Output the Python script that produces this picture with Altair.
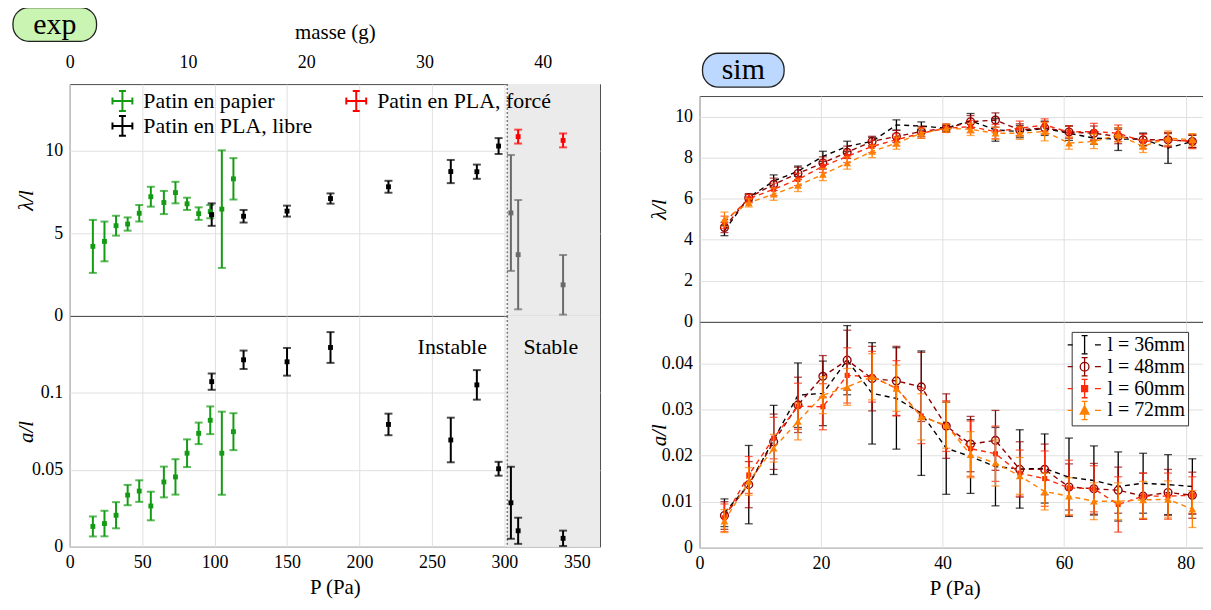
import altair as alt
import pandas as pd

FONT = "Liberation Serif"

# ---------------- experimental data (left) ----------------
P_papier = [16, 24, 32, 40, 48, 56, 65, 73, 81, 89, 97, 105, 113]
lam_papier = [4.2, 4.5, 5.45, 5.55, 6.2, 7.2, 6.85, 7.45, 6.77, 6.18, 6.3, 6.45, 8.28]
lam_papier_err = [1.6, 1.2, 0.6, 0.4, 0.5, 0.6, 0.7, 0.65, 0.37, 0.38, 0.4, 3.55, 1.25]
a_papier = [0.0132, 0.0151, 0.0205, 0.0336, 0.0362, 0.0265, 0.0421, 0.0454, 0.0608, 0.0737, 0.0822, 0.0608, 0.0748]
a_papier_err = [0.0065, 0.0083, 0.0085, 0.0066, 0.007, 0.0093, 0.01, 0.0115, 0.009, 0.007, 0.009, 0.027, 0.012]

P_libre = [98, 120, 150, 180, 220, 263, 281, 296]
lam_libre = [6.12, 6.02, 6.33, 7.09, 7.8, 8.72, 8.71, 10.26]
lam_libre_err = [0.68, 0.38, 0.33, 0.31, 0.36, 0.7, 0.43, 0.48]
a_libre = [0.1073, 0.1215, 0.1202, 0.1295, 0.0795, 0.0694, 0.1052, 0.0507]
a_libre_err = [0.0053, 0.006, 0.009, 0.01, 0.007, 0.0145, 0.0096, 0.0045]

P_stable = [304.5, 309.5, 340.5]
lam_stable = [6.22, 3.7, 1.88]
lam_stable_err = [3.5, 3.3, 1.8]
a_stable = [0.0286, 0.0104, 0.0055]
a_stable_err = [0.0234, 0.0085, 0.005]

P_force = [309.5, 340.5]
lam_force = [10.83, 10.6]
lam_force_err = [0.42, 0.42]

stable_start = 302
P_max_exp = 366
pa_per_gram = 8.16
masse_ticks = [0, 10, 20, 30, 40]
annot_text = ["Instable", "Stable"]
annot_P = [264, 332]
annot_a = [0.130, 0.130]

SER_EXP = ["Patin en papier", "Patin en PLA, forcé", "Patin en PLA, libre", "stable"]
LEG_EXP = ["Patin en papier", "Patin en PLA, libre", "Patin en PLA, forcé"]
LEG_EXP_COLORS = ["#139b13", "#000000", "#ff0000"]

# ---------------- simulation data (right) ----------------
P_sim = [4.1, 8.1, 12.2, 16.2, 20.3, 24.3, 28.4, 32.4, 36.5, 40.6,
         44.6, 48.7, 52.7, 56.8, 60.8, 64.9, 68.9, 73.0, 77.1, 81.1]
SER_SIM = ["l = 36mm", "l = 48mm", "l = 60mm", "l = 72mm"]

lam_36 = [4.45, 6.06, 6.86, 7.34, 8.06, 8.55, 8.79, 9.59, 9.54, 9.43, 9.8, 9.35, 9.27, 9.43, 9.19, 8.95, 8.9, 8.9, 8.47, 8.79]
lam_48 = [4.6, 6.05, 6.7, 7.23, 7.74, 8.26, 8.79, 9.03, 9.27, 9.43, 9.75, 9.83, 9.35, 9.45, 9.25, 9.19, 9.03, 8.87, 8.87, 8.79]
lam_60 = [4.85, 6.0, 6.46, 6.94, 7.58, 8.06, 8.55, 8.87, 9.19, 9.43, 9.51, 9.27, 9.43, 9.59, 9.25, 9.27, 9.19, 8.79, 8.87, 8.79]
lam_72 = [5.0, 5.8, 6.22, 6.65, 7.18, 7.74, 8.3, 8.71, 9.19, 9.43, 9.38, 9.19, 9.19, 9.27, 8.71, 8.79, 9.11, 8.55, 8.95, 8.87]
lam_36_err = [0.25, 0.15, 0.3, 0.25, 0.25, 0.25, 0.2, 0.25, 0.2, 0.15, 0.35, 0.55, 0.3, 0.35, 0.35, 0.3, 0.55, 0.3, 0.75, 0.3]
lam_48_err = [0.25, 0.2, 0.3, 0.3, 0.3, 0.3, 0.25, 0.3, 0.25, 0.2, 0.3, 0.35, 0.3, 0.3, 0.3, 0.35, 0.35, 0.3, 0.3, 0.3]
lam_60_err = [0.3, 0.2, 0.3, 0.3, 0.3, 0.3, 0.3, 0.3, 0.25, 0.2, 0.3, 0.35, 0.35, 0.3, 0.3, 0.4, 0.4, 0.35, 0.35, 0.35]
lam_72_err = [0.35, 0.2, 0.3, 0.3, 0.3, 0.3, 0.3, 0.3, 0.25, 0.2, 0.3, 0.3, 0.3, 0.45, 0.3, 0.35, 0.35, 0.3, 0.35, 0.3]

a_36 = [0.0076, 0.0137, 0.0234, 0.0331, 0.0335, 0.0407, 0.0335, 0.0324, 0.0292, 0.0216, 0.0198, 0.0176, 0.0171, 0.0172, 0.0153, 0.0146, 0.0133, 0.014, 0.0137, 0.0133]
a_48 = [0.007, 0.0137, 0.023, 0.031, 0.0372, 0.0407, 0.0367, 0.0362, 0.0349, 0.0264, 0.0225, 0.0233, 0.017, 0.017, 0.0132, 0.0128, 0.0125, 0.0112, 0.012, 0.0114]
a_60 = [0.0065, 0.0158, 0.0238, 0.0307, 0.0306, 0.0374, 0.0371, 0.0346, 0.0286, 0.0264, 0.0215, 0.0204, 0.0162, 0.015, 0.013, 0.0128, 0.0094, 0.0112, 0.0112, 0.0114]
a_72 = [0.0058, 0.0144, 0.0216, 0.0274, 0.0331, 0.0349, 0.0371, 0.0346, 0.0284, 0.0266, 0.0202, 0.0184, 0.0156, 0.0122, 0.0112, 0.0101, 0.0101, 0.0104, 0.0105, 0.0084]
a_36_err = [0.003, 0.0085, 0.0075, 0.007, 0.007, 0.0075, 0.011, 0.011, 0.0135, 0.01, 0.008, 0.0085, 0.0085, 0.0075, 0.0085, 0.0075, 0.0075, 0.0065, 0.0065, 0.006]
a_48_err = [0.003, 0.005, 0.006, 0.006, 0.0045, 0.0065, 0.007, 0.0075, 0.0075, 0.007, 0.006, 0.0065, 0.006, 0.0055, 0.005, 0.0055, 0.005, 0.005, 0.005, 0.005]
a_60_err = [0.003, 0.004, 0.0045, 0.005, 0.005, 0.006, 0.0055, 0.006, 0.006, 0.0055, 0.006, 0.006, 0.005, 0.006, 0.006, 0.005, 0.006, 0.005, 0.005, 0.004]
a_72_err = [0.0025, 0.003, 0.003, 0.004, 0.004, 0.004, 0.005, 0.005, 0.005, 0.005, 0.005, 0.005, 0.004, 0.004, 0.004, 0.004, 0.004, 0.004, 0.004, 0.004]

GREEN, RED, BLACK, GRAY = "#139b13", "#ff0000", "#000000", "#6a6a6a"
SIM_COLORS = ["#000000", "#8c0000", "#ff2a0a", "#ff8000"]

# ---------------- layout sizes ----------------
WL, HLT, HLB = 533, 233, 232
WR, HR = 513, 227
XMAX_R = 84.0
SPACER_H = 12
GAP = 47

INDEP = dict(color="independent", stroke="independent", fill="independent", shape="independent")


def frame(P, v, e, serie):
    return pd.DataFrame({"P": P, "v": v,
                         "lo": [a - b for a, b in zip(v, e)],
                         "hi": [a + b for a, b in zip(v, e)],
                         "serie": serie})


lt_df = pd.concat([frame(P_papier, lam_papier, lam_papier_err, SER_EXP[0]),
                   frame(P_libre, lam_libre, lam_libre_err, SER_EXP[2]),
                   frame(P_force, lam_force, lam_force_err, SER_EXP[1]),
                   frame(P_stable, lam_stable, lam_stable_err, SER_EXP[3])])
lb_df = pd.concat([frame(P_papier, a_papier, a_papier_err, SER_EXP[0]),
                   frame(P_libre, a_libre, a_libre_err, SER_EXP[2]),
                   frame(P_stable, a_stable, a_stable_err, SER_EXP[3])])

region_df = pd.DataFrame({"P0": [stable_start], "P1": [P_max_exp]})
annot_df = pd.DataFrame({"t": annot_text, "P": annot_P, "v": annot_a})

xs_L = alt.Scale(domain=[0, P_max_exp], nice=False, zero=False)
x_vals_L = [0, 50, 100, 150, 200, 250, 300, 350]


def ax_x(show):
    if show:
        return alt.Axis(values=x_vals_L, title="P (Pa)", labelPadding=7, titlePadding=5)
    return alt.Axis(values=x_vals_L, labels=False, title=None)


def left_panel(df, ydom, yvals, ytitle, H, colors, top):
    ys = alt.Scale(domain=ydom, nice=False, zero=False)
    yax = alt.Axis(values=yvals, title=ytitle, format="~r", labelPadding=7,
                   titleFontStyle="italic", titleX=-43, titleBaseline="middle")
    xax = ax_x(not top)
    cs = alt.Scale(domain=SER_EXP, range=colors)
    X = alt.X("P:Q", scale=xs_L, axis=xax)
    rect = alt.Chart(region_df).mark_rect(color="#ebebeb").encode(
        x=alt.X("P0:Q", scale=xs_L, axis=xax), x2="P1:Q",
        y=alt.value(0), y2=alt.value(H))
    rule = alt.Chart(region_df).mark_rule(color="#7a7a7a", strokeDash=[2, 2], strokeWidth=1.5).encode(
        x=alt.X("P0:Q", scale=xs_L, axis=xax))
    err = alt.Chart(df).mark_errorbar(ticks=True, size=8, thickness=2).encode(
        x=X, y=alt.Y("lo:Q", scale=ys, axis=yax), y2="hi:Q",
        color=alt.Color("serie:N", scale=cs, legend=None))
    sq = alt.Chart(df).mark_square(size=24, opacity=1).encode(
        x=X, y=alt.Y("v:Q", scale=ys, axis=yax),
        color=alt.Color("serie:N", scale=cs, legend=None))
    layers = [rect, rule, err, sq]
    return layers, X, ys, yax


# ---- left top ----
layers_lt, X_lt, ys_lt, yax_lt = left_panel(lt_df, [0, 14], [0, 5, 10], "λ/l", HLT,
                                            [GREEN, RED, BLACK, GRAY], True)
cross = "M-1,0L1,0M-1,-0.35L-1,0.35M1,-0.35L1,0.35M0,-1L0,1M-0.35,-1L0.35,-1M-0.35,1L0.35,1"
leg_exp_df = pd.DataFrame({"serie": LEG_EXP, "P": [10, 10, 10], "v": [-5, -5, -5]})
leg_exp = alt.Chart(leg_exp_df).mark_point(clip=True, size=400, opacity=1, strokeWidth=2,
                                           shape=cross).encode(
    x=X_lt, y=alt.Y("v:Q", scale=ys_lt, axis=yax_lt),
    stroke=alt.Stroke("serie:N", scale=alt.Scale(domain=LEG_EXP, range=LEG_EXP_COLORS),
                      legend=alt.Legend(title=None, orient="none", legendX=42, legendY=6,
                                        columns=2, columnPadding=30, rowPadding=-3,
                                        symbolType=cross, symbolSize=400, symbolStrokeWidth=2,
                                        labelOffset=10, labelFontSize=22, labelFont=FONT,
                                        labelColor="black", labelLimit=400)))
badge_df = pd.DataFrame({"t": ["exp"]})
exp_rect = alt.Chart(badge_df).mark_rect(fill="#c9f4b2", stroke="#222222", strokeWidth=1.3,
                                         cornerRadius=16).encode(
    x=alt.value(-57), x2=alt.value(27), y=alt.value(-77), y2=alt.value(-43))
exp_text = alt.Chart(badge_df).mark_text(font=FONT, fontSize=30, baseline="middle",
                                         color="black").encode(
    text="t:N", x=alt.value(-15), y=alt.value(-59))
masse_df = pd.DataFrame({"m": masse_ticks})
masse = alt.Chart(masse_df).mark_point(opacity=0).encode(
    x=alt.X("m:Q", scale=alt.Scale(domain=[0, P_max_exp / pa_per_gram], nice=False, zero=False),
            axis=alt.Axis(orient="top", values=masse_ticks, title="masse (g)", grid=False,
                          labelPadding=13, titlePadding=11)))
left_top = alt.layer(alt.layer(*layers_lt, leg_exp, exp_rect, exp_text), masse).resolve_scale(
    x="independent").properties(width=WL, height=HLT)

# ---- left bottom ----
layers_lb, X_lb, ys_lb, yax_lb = left_panel(lb_df, [0, 0.15], [0, 0.05, 0.1], "a/l", HLB,
                                            [GREEN, RED, BLACK, BLACK], False)
annot = alt.Chart(annot_df).mark_text(font=FONT, fontSize=22, color="black").encode(
    x=X_lb, y=alt.Y("v:Q", scale=ys_lb, axis=yax_lb), text="t:N")
left_bot = alt.layer(*layers_lb, annot).properties(width=WL, height=HLB)

left = alt.vconcat(left_top, left_bot, spacing=0, bounds="flush").resolve_scale(**INDEP)

# ---------------- right panels ----------------
xs_R = alt.Scale(domain=[0, XMAX_R], nice=False, zero=False)
x_vals_R = [0, 20, 40, 60, 80]

lam_all = [lam_36, lam_48, lam_60, lam_72]
lam_err_all = [lam_36_err, lam_48_err, lam_60_err, lam_72_err]
a_all = [a_36, a_48, a_60, a_72]
a_err_all = [a_36_err, a_48_err, a_60_err, a_72_err]


def right_panel(vals, errs, ydom, yvals, ytitle, top):
    ys = alt.Scale(domain=ydom, nice=False, zero=False)
    yax = alt.Axis(values=yvals, title=ytitle, format="~r", labelPadding=7,
                   titleFontStyle="italic", titleX=-40, titleBaseline="middle")
    if top:
        xax = alt.Axis(values=x_vals_R, labels=False, title=None)
    else:
        xax = alt.Axis(values=x_vals_R, title="P (Pa)", labelPadding=7, titlePadding=5)
    X = alt.X("P:Q", scale=xs_R, axis=xax)
    layers = []
    for i, name in enumerate(SER_SIM):
        df = frame(P_sim, vals[i], errs[i], name)
        c = SIM_COLORS[i]
        line = alt.Chart(df).mark_line(color=c, strokeDash=[5, 4], strokeWidth=1.4).encode(
            x=X, y=alt.Y("v:Q", scale=ys, axis=yax))
        eb = alt.Chart(df).mark_errorbar(ticks=True, size=8, thickness=1.3, color=c).encode(
            x=X, y=alt.Y("lo:Q", scale=ys, axis=yax), y2="hi:Q")
        layers += [line, eb]
        if i == 1:
            layers.append(alt.Chart(df).mark_point(shape="circle", filled=False, size=60, opacity=1,
                                                   strokeWidth=1.4, color=c).encode(
                x=X, y=alt.Y("v:Q", scale=ys, axis=yax)))
        elif i == 2:
            layers.append(alt.Chart(df).mark_square(size=26, opacity=1, color=c).encode(
                x=X, y=alt.Y("v:Q", scale=ys, axis=yax)))
        elif i == 3:
            layers.append(alt.Chart(df).mark_point(shape="triangle-up", filled=True, size=60,
                                                   opacity=1, color=c).encode(
                x=X, y=alt.Y("v:Q", scale=ys, axis=yax)))
    return layers, X, ys, yax


layers_rt, X_rt, ys_rt, yax_rt = right_panel(lam_all, lam_err_all, [0, 11],
                                             [0, 2, 4, 6, 8, 10], "λ/l", True)
sim_df = pd.DataFrame({"t": ["sim"]})
sim_rect = alt.Chart(sim_df).mark_rect(fill="#bcd8ff", stroke="#222222", strokeWidth=1.3,
                                       cornerRadius=16).encode(
    x=alt.value(3), x2=alt.value(85), y=alt.value(-43), y2=alt.value(-9))
sim_text = alt.Chart(sim_df).mark_text(font=FONT, fontSize=30, baseline="middle",
                                       color="black").encode(
    text="t:N", x=alt.value(44), y=alt.value(-26))
right_top = alt.layer(*layers_rt, sim_rect, sim_text).properties(width=WR, height=HR)

layers_rb, X_rb, ys_rb, yax_rb = right_panel(a_all, a_err_all, [0, 0.049],
                                             [0, 0.01, 0.02, 0.03, 0.04], "a/l", False)
dash = "M-4.25,0L-3,0M2.6,0L4.1,0M0,-2.3L0,2.3M-0.75,-2.3L0.75,-2.3M-0.75,2.3L0.75,2.3"
leg_paths = [dash,
             dash + "M-1.1,0A1.1,1.1 0 1,0 1.1,0A1.1,1.1 0 1,0 -1.1,0",
             dash + "M-0.75,-0.75L0.75,-0.75L0.75,0.75L-0.75,0.75Z",
             dash + "M0,-1.2L1.1,0.9L-1.1,0.9Z"]
leg_fills = ["transparent", "transparent", SIM_COLORS[2], SIM_COLORS[3]]
leg_sim_df = pd.DataFrame({"serie": SER_SIM, "P": [10] * 4, "v": [-1] * 4})
sim_legend = alt.Legend(title=None, orient="none", legendX=374, legendY=10, padding=3,
                        strokeColor="#333333", fillColor="white", rowPadding=-3,
                        symbolSize=64, symbolStrokeWidth=1.3, labelOffset=13,
                        labelFontSize=20, labelFont=FONT, labelColor="black")
leg_sim = alt.Chart(leg_sim_df).mark_point(clip=True, size=64, opacity=1, strokeWidth=1.3).encode(
    x=X_rb, y=alt.Y("v:Q", scale=ys_rb, axis=yax_rb),
    stroke=alt.Stroke("serie:N", scale=alt.Scale(domain=SER_SIM, range=SIM_COLORS), legend=sim_legend),
    fill=alt.Fill("serie:N", scale=alt.Scale(domain=SER_SIM, range=leg_fills), legend=sim_legend),
    shape=alt.Shape("serie:N", scale=alt.Scale(domain=SER_SIM, range=leg_paths), legend=sim_legend))
right_bot = alt.layer(*layers_rb, leg_sim).properties(width=WR, height=HR)

spacer = alt.Chart(pd.DataFrame({"t": [""]})).mark_text().encode(text="t:N").properties(
    width=WR, height=SPACER_H, view=alt.ViewBackground(stroke="transparent"))

right = alt.vconcat(spacer, right_top, right_bot, spacing=0, bounds="flush").resolve_scale(**INDEP)

chart = alt.hconcat(left, right, spacing=GAP).resolve_scale(**INDEP).properties(
    padding={"left": 3, "top": -4, "right": -8, "bottom": 0}
).configure_view(stroke="#4a4a4a", strokeWidth=1).configure_axis(
    labelFont=FONT, titleFont=FONT, labelFontSize=18, titleFontSize=21,
    titleFontWeight="normal", labelColor="black", titleColor="black",
    gridColor="#e0e0e0", domain=False, ticks=False, labelFlush=False
)

chart.save("out.html", embed_options={"renderer": "svg", "actions": False})
